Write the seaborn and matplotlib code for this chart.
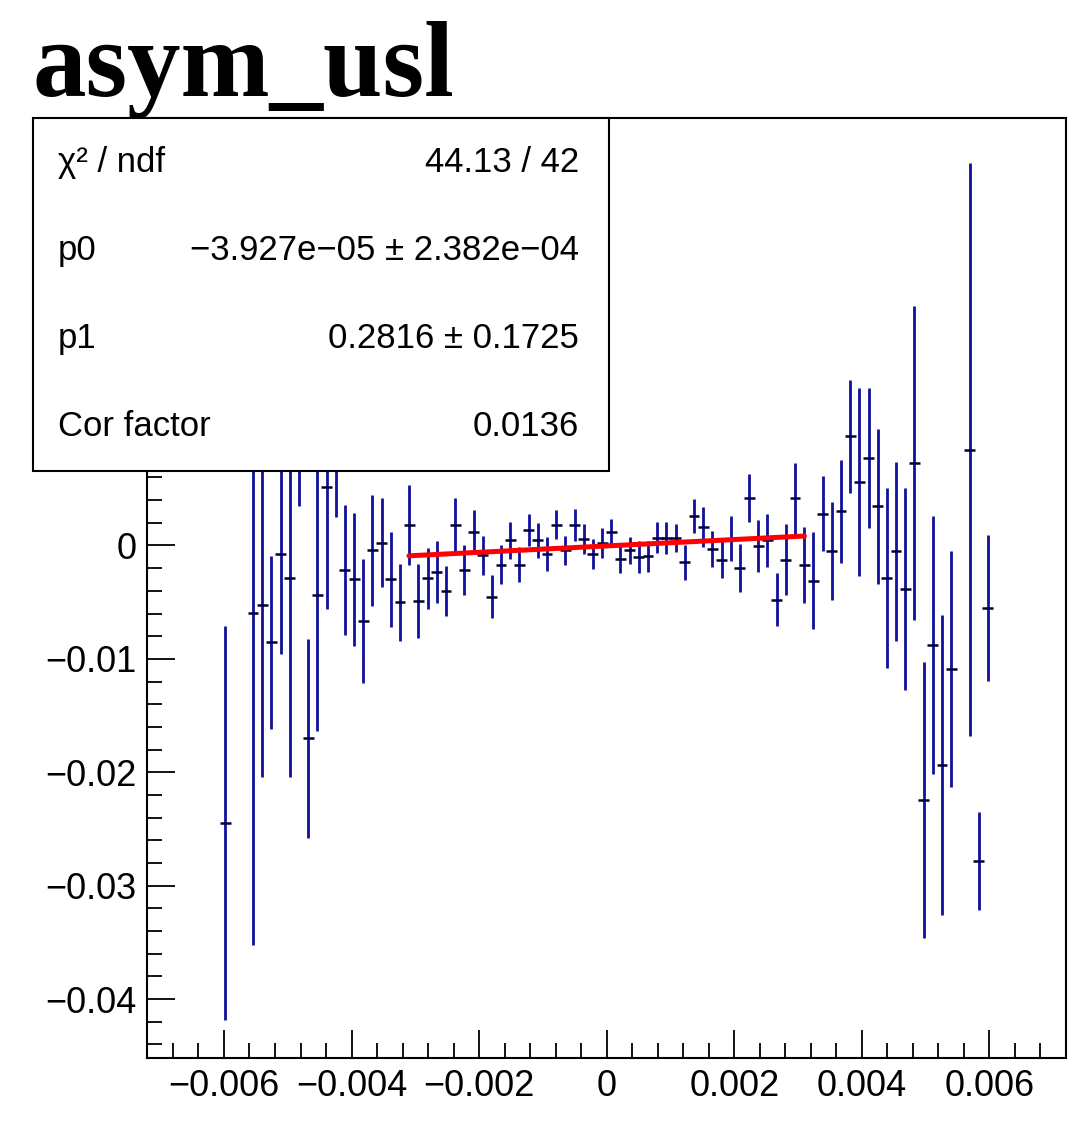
import numpy as np
import matplotlib
matplotlib.use("Agg")
import matplotlib.pyplot as plt
import seaborn as sns
from matplotlib.ticker import MultipleLocator, FuncFormatter
from matplotlib.patches import Rectangle

# profile bin centres (only filled bins) and their mean / error
bin_x = [
    -0.005976, -0.005544, -0.005400, -0.005256, -0.005112, -0.004968, -0.004824,
    -0.004680, -0.004536, -0.004392, -0.004248, -0.004104, -0.003960, -0.003816,
    -0.003672, -0.003528, -0.003384, -0.003240, -0.003096, -0.002952, -0.002808,
    -0.002664, -0.002520, -0.002376, -0.002232, -0.002088, -0.001944, -0.001800,
    -0.001656, -0.001512, -0.001368, -0.001224, -0.001080, -0.000936, -0.000792,
    -0.000648, -0.000504, -0.000360, -0.000216, -0.000072, 0.000072, 0.000216,
    0.000360, 0.000504, 0.000648, 0.000792, 0.000936, 0.001080, 0.001224,
    0.001368, 0.001512, 0.001656, 0.001800, 0.001944, 0.002088, 0.002232,
    0.002376, 0.002520, 0.002664, 0.002808, 0.002952, 0.003096, 0.003240,
    0.003384, 0.003528, 0.003672, 0.003816, 0.003960, 0.004104, 0.004248,
    0.004392, 0.004536, 0.004680, 0.004824, 0.004968, 0.005112, 0.005256,
    0.005400, 0.005688, 0.005832, 0.005976,
]
asym = [
    -0.02446, -0.00594, -0.00521, -0.00855, -0.00077, -0.00285, 0.01051,
    -0.01702, -0.00433, 0.00515, 0.00927, -0.00218, -0.00300, -0.00665,
    -0.00044, 0.00026, -0.00300, -0.00501, 0.00183, -0.00488, -0.00291,
    -0.00236, -0.00404, 0.00183, -0.00215, 0.00117, -0.00088, -0.00450,
    -0.00168, 0.00044, -0.00168, 0.00139, 0.00044, -0.00073, 0.00183,
    -0.00044, 0.00183, 0.00059, -0.00073, 0.00018, 0.00117, -0.00117,
    -0.00044, -0.00103, -0.00097, 0.00068, 0.00068, 0.00068, -0.00147,
    0.00256, 0.00162, -0.00029, -0.00124, 0.00059, -0.00197, 0.00418,
    -0.00006, 0.00044, -0.00477, -0.00124, 0.00418, -0.00170, -0.00309,
    0.00280, -0.00050, 0.00303, 0.00962, 0.00559, 0.00771, 0.00346,
    -0.00289, -0.00053, -0.00382, 0.00727, -0.02243, -0.00877, -0.01937,
    -0.01089, 0.00845, -0.02781, -0.00550,
]
asym_err = [
    0.01735, 0.02932, 0.01519, 0.00761, 0.00879, 0.01755, 0.00706,
    0.00874, 0.01207, 0.01075, 0.00680, 0.00571, 0.00587, 0.00547,
    0.00493, 0.00395, 0.00419, 0.00338, 0.00353, 0.00327, 0.00268,
    0.00272, 0.00221, 0.00236, 0.00221, 0.00192, 0.00174, 0.00188,
    0.00170, 0.00162, 0.00157, 0.00143, 0.00155, 0.00150, 0.00130,
    0.00130, 0.00140, 0.00132, 0.00132, 0.00132, 0.00117, 0.00124,
    0.00117, 0.00140, 0.00140, 0.00137, 0.00140, 0.00125, 0.00155,
    0.00150, 0.00174, 0.00157, 0.00165, 0.00199, 0.00210, 0.00209,
    0.00232, 0.00231, 0.00231, 0.00316, 0.00313, 0.00336, 0.00424,
    0.00331, 0.00433, 0.00454, 0.00501, 0.00832, 0.00621, 0.00684,
    0.00795, 0.00786, 0.00890, 0.01382, 0.01217, 0.01137, 0.01325,
    0.01039, 0.02527, 0.00431, 0.00643,
]
bin_half_width = 0.000085

# pol1 fit result
p0 = -3.927e-05
p1 = 0.2816
fit_range = [-0.0031, 0.0031]

stats_labels = ["χ² / ndf", "p0", "p1", "Cor factor"]
stats_values = ["44.13 / 42", "−3.927e−05 ± 2.382e−04", "0.2816 ± 0.1725", "0.0136"]

x_limits = (-0.0072, 0.0072)
y_limits = (-0.0452, 0.0377)

sns.set_theme(style="white")
plt.rcParams["font.family"] = ["Liberation Sans", "DejaVu Sans"]
plt.rcParams["text.color"] = "black"

W, H = 1088, 1128
fig = plt.figure(figsize=(W / 100, H / 100), dpi=100)
fig.patch.set_facecolor("white")
ax = fig.add_axes([147.4 / W, 1 - 1058 / H, (1066 - 147.4) / W, (1058 - 118) / H])

ax.errorbar(bin_x, asym, yerr=asym_err, fmt="none", ecolor="#10109c",
            elinewidth=2.0, capsize=0, zorder=2)
ax.errorbar(bin_x, asym, xerr=bin_half_width, fmt="none", ecolor="#00003a",
            elinewidth=1.8, capsize=0, zorder=3)

fit_x = np.array(fit_range)
sns.lineplot(x=fit_x, y=p0 + p1 * fit_x, ax=ax, color="#ff0000",
             linewidth=3.6, zorder=4)

ax.set_xlim(*x_limits)
ax.set_ylim(*y_limits)

# positive y labels sit under the stats box in the original, leave them blank
xfmt = FuncFormatter(lambda v, pos: ("%g" % v).replace("-", "\u2212"))
yfmt = FuncFormatter(lambda v, pos: "" if v > 1e-9 else ("%g" % v).replace("-", "\u2212"))
ax.xaxis.set_major_locator(MultipleLocator(0.002))
ax.xaxis.set_minor_locator(MultipleLocator(0.0004))
ax.yaxis.set_major_locator(MultipleLocator(0.01))
ax.yaxis.set_minor_locator(MultipleLocator(0.002))
ax.xaxis.set_major_formatter(xfmt)
ax.yaxis.set_major_formatter(yfmt)

ax.tick_params(which="both", direction="in", color="black", width=1.3,
               bottom=True, left=True, top=False, right=False,
               labelsize=26, labelcolor="black")
ax.tick_params(which="major", length=20)
ax.tick_params(which="minor", length=11)
ax.tick_params(axis="y", pad=8)
ax.tick_params(axis="x", pad=8)
for s in ax.spines.values():
    s.set_color("black")
    s.set_linewidth(1.5)

# title
fig.text(33 / W, 1 - 96 / H, "asym_usl", fontfamily="Liberation Serif",
         fontweight="bold", fontsize=77, va="baseline", ha="left", color="black")

# stats box
box_l, box_r, box_t, box_b = 33, 609, 118, 471
fig.add_artist(Rectangle((box_l / W, 1 - box_b / H), (box_r - box_l) / W,
                         (box_b - box_t) / H, transform=fig.transFigure,
                         facecolor="white", edgecolor="black", linewidth=1.5,
                         zorder=5))
row_h = (box_b - box_t) / len(stats_labels)
for i, (lab, val) in enumerate(zip(stats_labels, stats_values)):
    yy = 1 - (box_t + row_h * (i + 0.5)) / H
    fig.text(58 / W, yy, lab, fontsize=25, va="center", ha="left", zorder=6, color="black")
    fig.text(579 / W, yy, val, fontsize=25, va="center", ha="right", zorder=6, color="black")

fig.savefig("out.png", dpi=100)
